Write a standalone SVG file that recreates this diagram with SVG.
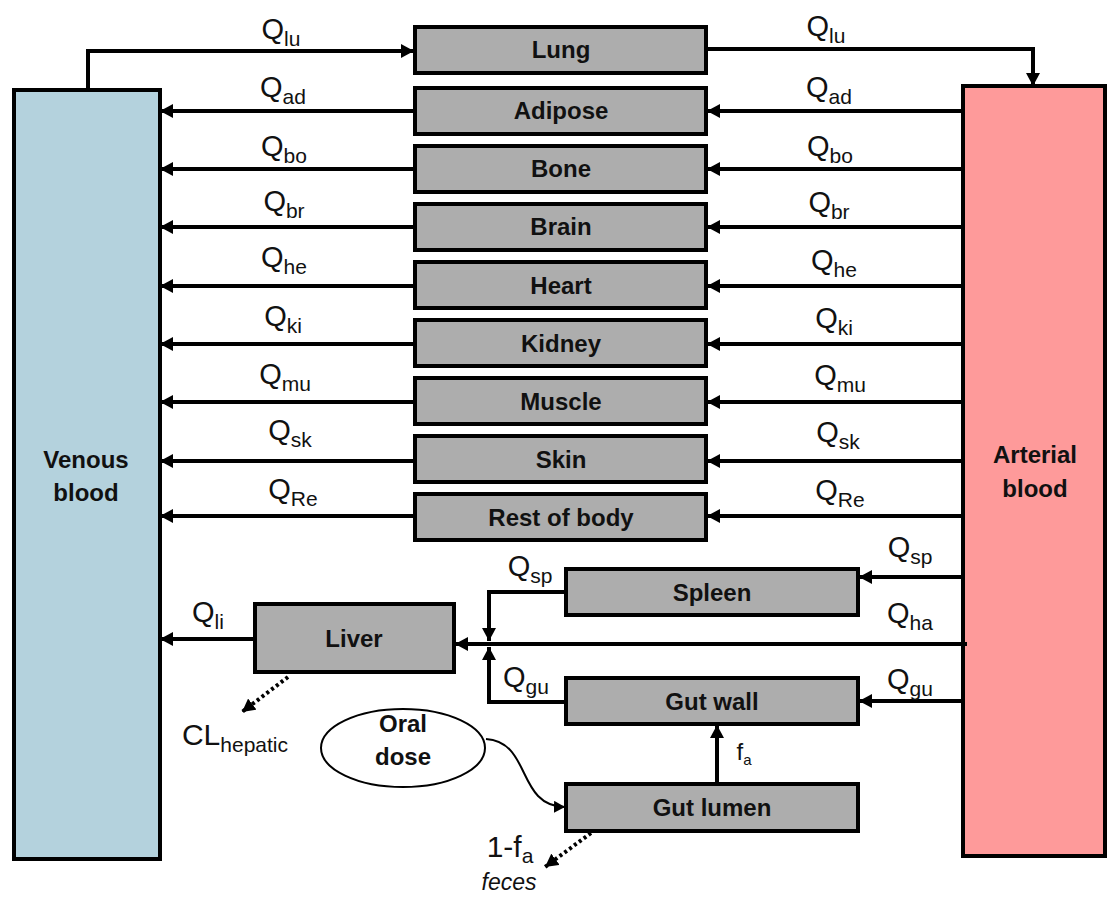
<svg xmlns="http://www.w3.org/2000/svg" width="1107" height="897" viewBox="0 0 1107 897">
<style>
.box{fill:#adadad;stroke:#000;stroke-width:4}
.lbl{font-family:"Liberation Sans",Arial,sans-serif;font-weight:bold;font-size:24px;fill:#111;text-anchor:middle}
.q{font-family:"Liberation Sans",Arial,sans-serif;font-size:29px;fill:#111;text-anchor:middle}
.sub{font-size:21px}
.ln{fill:none;stroke:#000;stroke-width:4}
.dot{fill:none;stroke:#000;stroke-width:4;stroke-dasharray:3 3}
</style>
<defs>
<marker id="ah" markerUnits="userSpaceOnUse" markerWidth="14" markerHeight="14" refX="13" refY="7" orient="auto"><path d="M0,0 L13,7 L0,14 z" fill="#000"/></marker>
<marker id="ahs" markerUnits="userSpaceOnUse" markerWidth="12" markerHeight="12" refX="11" refY="6" orient="auto"><path d="M0,0 L11,6 L0,12 z" fill="#000"/></marker>
</defs>
<rect width="1107" height="897" fill="#fff"/>

<g id="venous"><rect x="14" y="90" width="146" height="769" fill="#b4d2dd" stroke="#000" stroke-width="4"/>
<text class="lbl" x="86" y="468">Venous</text><text class="lbl" x="86" y="501">blood</text></g>
<g id="arterial"><rect x="963" y="86" width="142" height="770" fill="#fe9a9a" stroke="#000" stroke-width="4"/>
<text class="lbl" x="1035" y="463">Arterial</text><text class="lbl" x="1035" y="497">blood</text></g>

<g id="lung"><rect class="box" x="415" y="27" width="291" height="46"/><text class="lbl" x="561" y="58">Lung</text></g>
<g id="adipose"><rect class="box" x="415" y="88" width="291" height="46"/><text class="lbl" x="561" y="119">Adipose</text></g>
<g id="bone"><rect class="box" x="415" y="146" width="291" height="46"/><text class="lbl" x="561" y="177">Bone</text></g>
<g id="brain"><rect class="box" x="415" y="204" width="291" height="46"/><text class="lbl" x="561" y="235">Brain</text></g>
<g id="heart"><rect class="box" x="415" y="262" width="291" height="46"/><text class="lbl" x="561" y="294">Heart</text></g>
<g id="kidney"><rect class="box" x="415" y="320" width="291" height="46"/><text class="lbl" x="561" y="352">Kidney</text></g>
<g id="muscle"><rect class="box" x="415" y="378" width="291" height="46"/><text class="lbl" x="561" y="410">Muscle</text></g>
<g id="skin"><rect class="box" x="415" y="436" width="291" height="46"/><text class="lbl" x="561" y="468">Skin</text></g>
<g id="rest"><rect class="box" x="415" y="494" width="291" height="46"/><text class="lbl" x="561" y="526">Rest of body</text></g>
<g id="spleen"><rect class="box" x="566" y="569" width="292" height="46"/><text class="lbl" x="712" y="601">Spleen</text></g>
<g id="liver"><rect class="box" x="255" y="604" width="199" height="68"/><text class="lbl" x="354" y="647">Liver</text></g>
<g id="gutwall"><rect class="box" x="566" y="678" width="292" height="46"/><text class="lbl" x="712" y="710">Gut wall</text></g>
<g id="gutlumen"><rect class="box" x="566" y="784" width="292" height="47"/><text class="lbl" x="712" y="816">Gut lumen</text></g>
<g id="oral"><ellipse cx="403" cy="748" rx="82" ry="39" fill="#fff" stroke="#000" stroke-width="2"/>
<text class="lbl" x="403" y="732">Oral</text><text class="lbl" x="403" y="765">dose</text></g>

<g id="connectors">
<path class="ln" d="M88,90 V51 H414" marker-end="url(#ah)"/>
<path class="ln" d="M706,49 H1033 V86" marker-end="url(#ah)"/>
<path class="ln" d="M415,111 H160" marker-end="url(#ah)"/>
<path class="ln" d="M963,111 H707" marker-end="url(#ah)"/>
<path class="ln" d="M415,169 H160" marker-end="url(#ah)"/>
<path class="ln" d="M963,169 H707" marker-end="url(#ah)"/>
<path class="ln" d="M415,227 H160" marker-end="url(#ah)"/>
<path class="ln" d="M963,227 H707" marker-end="url(#ah)"/>
<path class="ln" d="M415,286 H160" marker-end="url(#ah)"/>
<path class="ln" d="M963,286 H707" marker-end="url(#ah)"/>
<path class="ln" d="M415,344 H160" marker-end="url(#ah)"/>
<path class="ln" d="M963,344 H707" marker-end="url(#ah)"/>
<path class="ln" d="M415,402 H160" marker-end="url(#ah)"/>
<path class="ln" d="M963,402 H707" marker-end="url(#ah)"/>
<path class="ln" d="M415,461 H160" marker-end="url(#ah)"/>
<path class="ln" d="M963,461 H707" marker-end="url(#ah)"/>
<path class="ln" d="M415,516 H160" marker-end="url(#ah)"/>
<path class="ln" d="M963,516 H707" marker-end="url(#ah)"/>
<path class="ln" d="M963,577 H859" marker-end="url(#ah)"/>
<path class="ln" d="M963,701 H859" marker-end="url(#ah)"/>
<path class="ln" d="M967,644 H455" marker-end="url(#ah)"/>
<path class="ln" d="M566,592 H489 V641" marker-end="url(#ah)"/>
<path class="ln" d="M566,702 H489 V647" marker-end="url(#ah)"/>
<path class="ln" d="M254,639 H160" marker-end="url(#ah)"/>
<path class="ln" d="M717,784 V725" marker-end="url(#ah)"/>
<path fill="none" stroke="#000" stroke-width="2" d="M486,739 C532,742 516,806 565,807" marker-end="url(#ahs)"/>
<path class="dot" d="M288,677 L242,712" marker-end="url(#ah)"/>
<path class="dot" d="M591,833 L545,867" marker-end="url(#ah)"/>
</g>

<g id="labels">
<text class="q" x="281" y="39">Q<tspan class="sub" dy="7">lu</tspan></text>
<text class="q" x="826" y="36">Q<tspan class="sub" dy="7">lu</tspan></text>
<text class="q" x="283" y="97">Q<tspan class="sub" dy="7">ad</tspan></text>
<text class="q" x="829" y="97">Q<tspan class="sub" dy="7">ad</tspan></text>
<text class="q" x="284" y="156">Q<tspan class="sub" dy="7">bo</tspan></text>
<text class="q" x="830" y="156">Q<tspan class="sub" dy="7">bo</tspan></text>
<text class="q" x="284" y="211">Q<tspan class="sub" dy="7">br</tspan></text>
<text class="q" x="829" y="212">Q<tspan class="sub" dy="7">br</tspan></text>
<text class="q" x="284" y="267">Q<tspan class="sub" dy="7">he</tspan></text>
<text class="q" x="834" y="270">Q<tspan class="sub" dy="7">he</tspan></text>
<text class="q" x="283" y="326">Q<tspan class="sub" dy="7">ki</tspan></text>
<text class="q" x="834" y="328">Q<tspan class="sub" dy="7">ki</tspan></text>
<text class="q" x="285" y="384">Q<tspan class="sub" dy="7">mu</tspan></text>
<text class="q" x="840" y="385">Q<tspan class="sub" dy="7">mu</tspan></text>
<text class="q" x="290" y="440">Q<tspan class="sub" dy="7">sk</tspan></text>
<text class="q" x="838" y="442">Q<tspan class="sub" dy="7">sk</tspan></text>
<text class="q" x="293" y="499">Q<tspan class="sub" dy="7">Re</tspan></text>
<text class="q" x="840" y="500">Q<tspan class="sub" dy="7">Re</tspan></text>
<text class="q" x="910" y="557">Q<tspan class="sub" dy="7">sp</tspan></text>
<text class="q" x="910" y="623">Q<tspan class="sub" dy="7">ha</tspan></text>
<text class="q" x="910" y="689">Q<tspan class="sub" dy="7">gu</tspan></text>
<text class="q" x="530" y="576">Q<tspan class="sub" dy="7">sp</tspan></text>
<text class="q" x="526" y="687">Q<tspan class="sub" dy="7">gu</tspan></text>
<text class="q" x="208" y="622">Q<tspan class="sub" dy="7">li</tspan></text>
<text class="q" x="235" y="745" style="font-size:30px">CL<tspan class="sub" dy="7">hepatic</tspan></text>
<text class="q" x="744" y="760" style="font-size:24px">f<tspan style="font-size:15px" dy="5">a</tspan></text>
<text class="q" x="510" y="857" style="font-size:30px">1-f<tspan class="sub" dy="6">a</tspan></text>
<text class="q" x="509" y="890" style="font-size:23px;font-style:italic">feces</text>
</g>
</svg>
